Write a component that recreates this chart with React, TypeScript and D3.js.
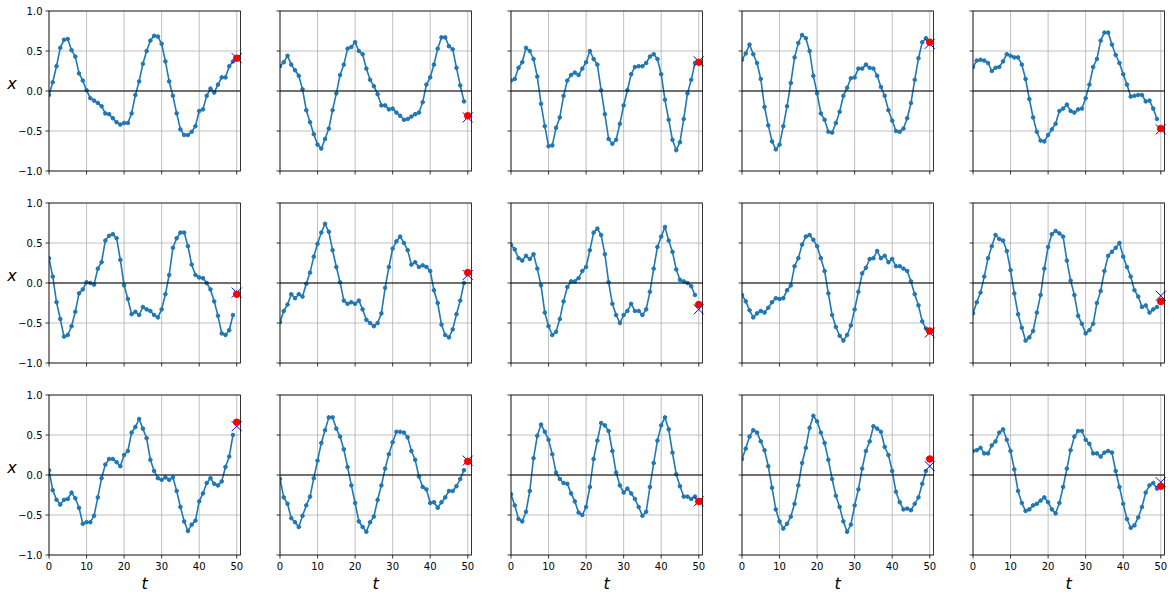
import React from "react";
import * as d3 from "d3";

const series00 = [-0.05,0.11,0.31,0.54,0.64,0.65,0.51,0.43,0.22,0.13, 0.01,-0.09,-0.12,-0.15,-0.19,-0.28,-0.29,-0.34,-0.39,-0.42, -0.40,-0.40,-0.28,-0.05,0.12,0.34,0.50,0.63,0.69,0.68, 0.59,0.37,0.12,-0.06,-0.28,-0.48,-0.55,-0.55,-0.51,-0.44, -0.25,-0.23,-0.06,0.03,-0.02,0.08,0.17,0.17,0.31,0.37];
const series01 = [0.31,0.36,0.44,0.33,0.26,0.19,0.02,-0.24,-0.39,-0.54, -0.67,-0.72,-0.60,-0.47,-0.24,-0.03,0.20,0.33,0.53,0.55, 0.61,0.50,0.46,0.28,0.14,0.06,-0.04,-0.18,-0.18,-0.23, -0.22,-0.27,-0.31,-0.36,-0.35,-0.32,-0.29,-0.27,-0.14,0.08, 0.17,0.33,0.53,0.67,0.67,0.56,0.52,0.29,0.07,-0.13];
const series02 = [0.13,0.15,0.29,0.36,0.54,0.50,0.40,0.18,-0.16,-0.44, -0.69,-0.68,-0.46,-0.33,-0.06,0.13,0.20,0.23,0.20,0.28, 0.36,0.50,0.40,0.33,0.01,-0.29,-0.60,-0.66,-0.61,-0.41, -0.18,0.01,0.21,0.30,0.31,0.31,0.35,0.43,0.46,0.40, 0.21,-0.11,-0.36,-0.61,-0.74,-0.64,-0.35,-0.03,0.14,0.35];
const series03 = [0.39,0.47,0.58,0.46,0.35,0.15,-0.20,-0.43,-0.63,-0.73, -0.67,-0.44,-0.19,0.10,0.42,0.60,0.70,0.66,0.50,0.19, -0.03,-0.28,-0.36,-0.51,-0.52,-0.40,-0.26,-0.06,0.04,0.16, 0.17,0.28,0.28,0.33,0.29,0.28,0.19,0.05,-0.06,-0.24, -0.37,-0.50,-0.51,-0.47,-0.34,-0.15,0.14,0.41,0.61,0.66];
const series04 = [0.30,0.38,0.39,0.38,0.35,0.25,0.29,0.30,0.37,0.46, 0.44,0.42,0.42,0.33,0.15,-0.10,-0.33,-0.51,-0.62,-0.63, -0.55,-0.48,-0.41,-0.25,-0.22,-0.17,-0.25,-0.27,-0.23,-0.22, -0.09,0.08,0.30,0.40,0.63,0.73,0.73,0.58,0.45,0.35, 0.21,0.08,-0.07,-0.06,-0.05,-0.05,-0.13,-0.12,-0.22,-0.35];
const series10 = [0.31,0.08,-0.24,-0.45,-0.67,-0.65,-0.54,-0.36,-0.13,-0.08, 0.01,0.00,-0.02,0.18,0.26,0.53,0.59,0.61,0.56,0.29, -0.03,-0.20,-0.39,-0.36,-0.40,-0.30,-0.33,-0.35,-0.40,-0.43, -0.33,-0.14,0.10,0.44,0.56,0.63,0.63,0.46,0.23,0.10, 0.07,0.06,0.00,-0.08,-0.23,-0.41,-0.63,-0.65,-0.59,-0.40];
const series11 = [-0.49,-0.35,-0.27,-0.14,-0.19,-0.14,-0.17,-0.01,0.13,0.33, 0.49,0.63,0.74,0.64,0.41,0.20,0.01,-0.22,-0.26,-0.24, -0.26,-0.22,-0.33,-0.46,-0.50,-0.54,-0.50,-0.38,-0.06,0.20, 0.43,0.52,0.58,0.50,0.41,0.23,0.26,0.20,0.22,0.20, 0.15,-0.09,-0.25,-0.52,-0.65,-0.68,-0.58,-0.39,-0.22,0.00];
const series12 = [0.48,0.42,0.31,0.28,0.34,0.30,0.36,0.18,-0.03,-0.37, -0.54,-0.65,-0.61,-0.45,-0.23,-0.05,0.02,0.02,0.06,0.15, 0.20,0.41,0.63,0.68,0.60,0.36,0.01,-0.26,-0.40,-0.50, -0.40,-0.35,-0.26,-0.35,-0.35,-0.40,-0.33,-0.11,0.18,0.45, 0.58,0.70,0.53,0.39,0.17,0.04,0.02,0.00,-0.04,-0.15];
const series13 = [-0.15,-0.23,-0.34,-0.43,-0.38,-0.35,-0.37,-0.31,-0.24,-0.19, -0.20,-0.19,-0.09,-0.03,0.21,0.31,0.48,0.58,0.60,0.54, 0.46,0.31,0.15,-0.13,-0.40,-0.55,-0.66,-0.72,-0.65,-0.53, -0.33,-0.11,0.12,0.19,0.30,0.31,0.40,0.31,0.34,0.26, 0.30,0.21,0.21,0.18,0.15,0.02,-0.14,-0.28,-0.48,-0.57];
const series14 = [-0.38,-0.24,-0.12,0.08,0.31,0.46,0.60,0.55,0.53,0.40, 0.16,-0.13,-0.39,-0.56,-0.72,-0.68,-0.60,-0.37,-0.15,0.18, 0.45,0.61,0.65,0.62,0.58,0.28,0.03,-0.15,-0.41,-0.51, -0.63,-0.59,-0.51,-0.25,-0.10,0.15,0.34,0.39,0.44,0.50, 0.33,0.20,0.08,-0.09,-0.17,-0.30,-0.28,-0.37,-0.33,-0.30];
const series20 = [0.06,-0.19,-0.31,-0.37,-0.31,-0.30,-0.22,-0.29,-0.41,-0.61, -0.59,-0.59,-0.51,-0.28,-0.04,0.13,0.20,0.20,0.16,0.11, 0.25,0.30,0.53,0.60,0.70,0.58,0.46,0.19,0.05,-0.04, -0.06,-0.03,-0.06,-0.03,-0.20,-0.40,-0.58,-0.70,-0.62,-0.57, -0.33,-0.23,-0.10,-0.04,-0.11,-0.13,-0.08,0.10,0.23,0.50];
const series21 = [-0.05,-0.28,-0.36,-0.54,-0.59,-0.65,-0.51,-0.38,-0.27,-0.04, 0.18,0.40,0.56,0.72,0.72,0.58,0.48,0.32,0.10,-0.13, -0.35,-0.58,-0.65,-0.71,-0.59,-0.52,-0.31,-0.13,0.08,0.26, 0.41,0.54,0.54,0.53,0.47,0.30,0.19,-0.02,-0.15,-0.18, -0.35,-0.34,-0.41,-0.34,-0.28,-0.20,-0.20,-0.14,-0.05,0.06];
const series22 = [-0.24,-0.38,-0.55,-0.58,-0.46,-0.20,0.21,0.49,0.63,0.54, 0.44,0.26,0.03,-0.05,-0.10,-0.11,-0.23,-0.33,-0.47,-0.50, -0.40,-0.15,0.20,0.43,0.65,0.62,0.55,0.30,0.03,-0.13, -0.22,-0.17,-0.23,-0.30,-0.40,-0.51,-0.46,-0.15,0.15,0.43, 0.62,0.72,0.57,0.28,0.01,-0.14,-0.27,-0.27,-0.30,-0.27];
const series23 = [0.20,0.33,0.48,0.56,0.53,0.42,0.31,0.11,-0.16,-0.43, -0.58,-0.67,-0.61,-0.52,-0.36,-0.13,0.15,0.34,0.59,0.74, 0.67,0.53,0.40,0.19,-0.05,-0.26,-0.40,-0.58,-0.71,-0.62, -0.38,-0.18,0.08,0.30,0.42,0.61,0.58,0.54,0.35,0.25, 0.05,-0.21,-0.34,-0.43,-0.42,-0.44,-0.36,-0.28,-0.11,0.05];
const series24 = [0.30,0.31,0.34,0.27,0.27,0.37,0.42,0.53,0.57,0.44, 0.30,0.07,-0.20,-0.35,-0.45,-0.43,-0.38,-0.36,-0.32,-0.28, -0.34,-0.43,-0.48,-0.35,-0.15,0.08,0.31,0.48,0.55,0.55, 0.44,0.39,0.27,0.27,0.23,0.28,0.30,0.28,0.05,-0.15, -0.36,-0.55,-0.66,-0.63,-0.53,-0.40,-0.22,-0.13,-0.10,-0.17];

const allSeries = [
  series00, series01, series02, series03, series04,
  series10, series11, series12, series13, series14,
  series20, series21, series22, series23, series24,
];
// blue "x" markers (target) and red dots (prediction), at t = 50
const targets = [0.41, -0.33, 0.37, 0.59, -0.48, -0.12, 0.10, -0.33, -0.62, -0.16, 0.61, 0.18, -0.33, 0.11, -0.09];
const predictions = [0.41, -0.31, 0.36, 0.61, -0.47, -0.14, 0.13, -0.27, -0.60, -0.23, 0.66, 0.17, -0.33, 0.20, -0.14];

const xTicks = [0, 10, 20, 30, 40, 50];
const yTicks = [-1, -0.5, 0, 0.5, 1];
const nSteps = 50;

const W = 1174;
const H = 599;
const NCOLS = 5;
const NROWS = 3;
const LEFT0 = 49;
const COLSTEP = 231;
const AXW = 191.5;
const TOP0 = 11;
const ROWSTEP = 192;
const AXH = 160;

const blue = "#1f77b4";
const fontFam = "'DejaVu Sans', sans-serif";

function fmtY(v: number) {
  const s = Math.abs(v).toFixed(1);
  return v < 0 ? "\u2212" + s : s;
}

function Panel({ idx }: { idx: number }) {
  const row = Math.floor(idx / NCOLS);
  const col = idx % NCOLS;
  const left = LEFT0 + col * COLSTEP;
  const top = TOP0 + row * ROWSTEP;
  const x = d3.scaleLinear().domain([0, nSteps + 1]).range([left, left + AXW]);
  const y = d3.scaleLinear().domain([-1, 1]).range([top + AXH, top]);
  const data = allSeries[idx];
  const line = d3
    .line<number>()
    .x((_, i) => x(i))
    .y((d) => y(d));
  const clipId = `clip${idx}`;
  const tx = x(nSteps);
  const tyX = y(targets[idx]);
  const tyR = y(predictions[idx]);
  return (
    <g>
      <defs>
        <clipPath id={clipId}>
          <rect x={left} y={top} width={AXW} height={AXH} />
        </clipPath>
      </defs>
      {xTicks.map((t) => (
        <line key={"gx" + t} x1={x(t)} x2={x(t)} y1={top} y2={top + AXH} stroke="#b0b0b0" strokeWidth={0.8} />
      ))}
      {yTicks.map((t) => (
        <line key={"gy" + t} x1={left} x2={left + AXW} y1={y(t)} y2={y(t)} stroke="#b0b0b0" strokeWidth={0.8} />
      ))}
      <g clipPath={`url(#${clipId})`}>
        <path d={line(data) || ""} fill="none" stroke={blue} strokeWidth={1.6} strokeLinejoin="round" />
        {data.map((d, i) => (
          <circle key={i} cx={x(i)} cy={y(d)} r={1.8} fill={blue} stroke={blue} strokeWidth={1} />
        ))}
        <line x1={left} x2={left + AXW} y1={y(0)} y2={y(0)} stroke="#000" strokeWidth={1} />
      </g>
      <g stroke="#0000ff" strokeWidth={1}>
        <line x1={tx - 5} x2={tx + 5} y1={tyX - 5} y2={tyX + 5} />
        <line x1={tx - 5} x2={tx + 5} y1={tyX + 5} y2={tyX - 5} />
      </g>
      <circle cx={tx} cy={tyR} r={3.3} fill="#ff0000" stroke="#ff0000" strokeWidth={1} />
      <rect x={left} y={top} width={AXW} height={AXH} fill="none" stroke="#000" strokeWidth={0.8} />
      {xTicks.map((t) => (
        <line key={"tx" + t} x1={x(t)} x2={x(t)} y1={top + AXH} y2={top + AXH + 3.5} stroke="#000" strokeWidth={0.8} />
      ))}
      {yTicks.map((t) => (
        <line key={"ty" + t} x1={left - 3.5} x2={left} y1={y(t)} y2={y(t)} stroke="#000" strokeWidth={0.8} />
      ))}
      {row === NROWS - 1 &&
        xTicks.map((t) => (
          <text key={"lx" + t} x={x(t)} y={top + AXH + 15} textAnchor="middle" fontSize={10} fontFamily={fontFam} fill="#000">
            {t}
          </text>
        ))}
      {col === 0 &&
        yTicks.map((t) => (
          <text key={"ly" + t} x={left - 6.5} y={y(t) + 3.6} textAnchor="end" fontSize={10} fontFamily={fontFam} fill="#000">
            {fmtY(t)}
          </text>
        ))}
      {col === 0 && (
        <text x={12} y={top + 78} textAnchor="middle" fontSize={16} fontStyle="italic" fontFamily={fontFam} fill="#000">
          x
        </text>
      )}
      {row === NROWS - 1 && (
        <text x={left + AXW / 2} y={top + AXH + 34} textAnchor="middle" fontSize={16} fontStyle="italic" fontFamily={fontFam} fill="#000">
          t
        </text>
      )}
    </g>
  );
}

export default function App() {
  return (
    <svg
      width={W}
      height={H}
      viewBox={`0 0 ${W} ${H}`}
      style={{ position: "absolute", left: 0, top: 0, background: "#fff" }}
    >
      <rect x={0} y={0} width={W} height={H} fill="#fff" />
      {allSeries.map((_, i) => (
        <Panel key={i} idx={i} />
      ))}
    </svg>
  );
}
